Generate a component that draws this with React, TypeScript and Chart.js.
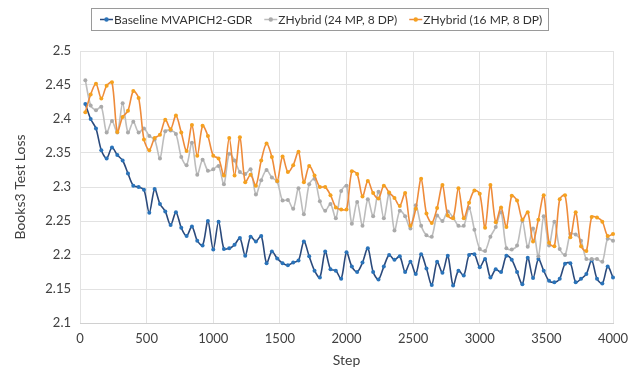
import { useEffect, useRef } from "react";
import { Chart, registerables } from "chart.js";

Chart.register(...registerables);

// Training steps at which the test loss was evaluated
const steps = [
  40, 80, 120, 160, 200, 240, 280, 320, 360, 400,
  440, 480, 520, 560, 600, 640, 680, 720, 760, 800,
  840, 880, 920, 960, 1000, 1040, 1080, 1120, 1160, 1200,
  1240, 1280, 1320, 1360, 1400, 1440, 1480, 1520, 1560, 1600,
  1640, 1680, 1720, 1760, 1800, 1840, 1880, 1920, 1960, 2000,
  2040, 2080, 2120, 2160, 2200, 2240, 2280, 2320, 2360, 2400,
  2440, 2480, 2520, 2560, 2600, 2640, 2680, 2720, 2760, 2800,
  2840, 2880, 2920, 2960, 3000, 3040, 3080, 3120, 3160, 3200,
  3240, 3280, 3320, 3360, 3400, 3440, 3480, 3520, 3560, 3600,
  3640, 3680, 3720, 3760, 3800, 3840, 3880, 3920, 3960, 4000,
];

// Books3 test loss, baseline MVAPICH2-GDR
const baseline = [
  2.422, 2.400, 2.386, 2.354, 2.342, 2.358, 2.347, 2.339, 2.320, 2.302,
  2.300, 2.296, 2.262, 2.297, 2.275, 2.264, 2.244, 2.263, 2.240, 2.228,
  2.242, 2.221, 2.214, 2.250, 2.208, 2.249, 2.209, 2.210, 2.215, 2.225,
  2.199, 2.227, 2.220, 2.228, 2.188, 2.205, 2.195, 2.188, 2.185, 2.189,
  2.192, 2.220, 2.198, 2.177, 2.167, 2.205, 2.179, 2.177, 2.165, 2.204,
  2.183, 2.175, 2.189, 2.210, 2.175, 2.164, 2.183, 2.200, 2.193, 2.198,
  2.175, 2.190, 2.172, 2.201, 2.180, 2.156, 2.190, 2.174, 2.199, 2.155,
  2.177, 2.170, 2.200, 2.201, 2.182, 2.194, 2.167, 2.179, 2.175, 2.199,
  2.193, 2.175, 2.157, 2.196, 2.166, 2.194, 2.177, 2.162, 2.160, 2.165,
  2.187, 2.188, 2.160, 2.165, 2.172, 2.192, 2.165, 2.158, 2.183, 2.167,
];

// ZHybrid with 24-way model parallelism, 8-way data parallelism
const zhybrid24 = [
  2.457, 2.420, 2.413, 2.418, 2.380, 2.397, 2.380, 2.423, 2.380, 2.396,
  2.380, 2.386, 2.375, 2.370, 2.342, 2.382, 2.383, 2.378, 2.344, 2.332,
  2.365, 2.318, 2.340, 2.324, 2.326, 2.331, 2.304, 2.349, 2.339, 2.322,
  2.319, 2.326, 2.289, 2.310, 2.325, 2.314, 2.308, 2.280, 2.281, 2.268,
  2.298, 2.260, 2.304, 2.312, 2.279, 2.265, 2.275, 2.254, 2.294, 2.302,
  2.246, 2.278, 2.243, 2.282, 2.257, 2.293, 2.254, 2.290, 2.236, 2.265,
  2.257, 2.239, 2.273, 2.243, 2.229, 2.227, 2.258, 2.250, 2.264, 2.255,
  2.243, 2.243, 2.269, 2.237, 2.209, 2.206, 2.227, 2.241, 2.263, 2.210,
  2.208, 2.214, 2.250, 2.212, 2.239, 2.198, 2.257, 2.214, 2.249, 2.209,
  2.200, 2.231, 2.230, 2.221, 2.194, 2.194, 2.194, 2.190, 2.224, 2.221,
];

// ZHybrid with 16-way model parallelism, 8-way data parallelism
const zhybrid16 = [
  2.410, 2.436, 2.452, 2.430, 2.449, 2.454, 2.381, 2.403, 2.412, 2.441,
  2.431, 2.370, 2.354, 2.372, 2.377, 2.399, 2.385, 2.405, 2.380, 2.353,
  2.391, 2.346, 2.390, 2.375, 2.346, 2.342, 2.317, 2.372, 2.317, 2.373,
  2.307, 2.318, 2.302, 2.339, 2.364, 2.344, 2.309, 2.345, 2.322, 2.332,
  2.352, 2.307, 2.331, 2.317, 2.300, 2.300, 2.288, 2.270, 2.267, 2.267,
  2.323, 2.319, 2.286, 2.309, 2.291, 2.283, 2.302, 2.292, 2.284, 2.272,
  2.291, 2.243, 2.268, 2.312, 2.261, 2.247, 2.269, 2.303, 2.258, 2.254,
  2.298, 2.254, 2.277, 2.295, 2.290, 2.240, 2.303, 2.248, 2.270, 2.241,
  2.287, 2.280, 2.252, 2.263, 2.220, 2.252, 2.288, 2.218, 2.213, 2.282,
  2.288, 2.226, 2.263, 2.213, 2.206, 2.256, 2.255, 2.249, 2.228, 2.231,
];

const seriesNames = ["Baseline MVAPICH2-GDR", "ZHybrid (24 MP, 8 DP)", "ZHybrid (16 MP, 8 DP)"];
const lineColors = ["#2b4a7c", "#bdbdbd", "#ee8b3a"];
const markerColors = ["#2a73b9", "#aaaaaa", "#f5a11f"];

const FONT = "Lato, 'Open Sans', 'DejaVu Sans', sans-serif";

// Legend drawn as a single bordered row above the plot
const boxedLegend = {
  id: "boxedLegend",
  afterDraw(chart: any) {
    const ctx = chart.ctx as CanvasRenderingContext2D;
    const datasets = chart.data.datasets;
    ctx.save();
    ctx.font = `12px ${FONT}`;
    const markerW = 13;
    const gap = 1;
    const itemGap = 12;
    const padL = 9;
    const padR = 6;
    const widths = datasets.map((ds: any) => markerW + gap + ctx.measureText(ds.label).width);
    const total = widths.reduce((a: number, b: number) => a + b, 0) + itemGap * (datasets.length - 1);
    const boxW = Math.round(total + padL + padR);
    const boxH = 22;
    const top = 8;
    const left = Math.round(chart.width / 2 - boxW / 2) + 4;
    ctx.strokeStyle = "#9a9a9a";
    ctx.lineWidth = 1;
    ctx.strokeRect(left + 0.5, top + 0.5, boxW, boxH);
    const cy = top + boxH / 2 + 0.5;
    let x = left + padL;
    datasets.forEach((ds: any, i: number) => {
      ctx.strokeStyle = ds.borderColor;
      ctx.lineWidth = 1.5;
      ctx.beginPath();
      ctx.moveTo(x, cy);
      ctx.lineTo(x + markerW, cy);
      ctx.stroke();
      ctx.fillStyle = ds.pointBackgroundColor;
      ctx.beginPath();
      ctx.arc(x + markerW / 2, cy, 2.2, 0, Math.PI * 2);
      ctx.fill();
      ctx.fillStyle = "#333333";
      ctx.textBaseline = "middle";
      ctx.textAlign = "left";
      ctx.fillText(ds.label, x + markerW + gap, cy + 1);
      x += widths[i] + itemGap;
    });
    ctx.restore();
  },
};

export default function App() {
  const canvasRef = useRef<HTMLCanvasElement>(null);

  useEffect(() => {
    document.body.style.margin = "0";
    const series = [baseline, zhybrid24, zhybrid16];
    const chart = new Chart(canvasRef.current!, {
      type: "line",
      data: {
        datasets: series.map((values, i) => ({
          label: seriesNames[i],
          data: steps.map((s, j) => ({ x: s, y: values[j] })),
          borderColor: lineColors[i],
          backgroundColor: markerColors[i],
          pointBackgroundColor: markerColors[i],
          pointBorderColor: markerColors[i],
          pointRadius: 2,
          pointBorderWidth: 0,
          borderWidth: 1.6,
          tension: 0.3,
          clip: false as any,
          order: 2 - i,
        })),
      },
      options: {
        animation: false,
        responsive: true,
        maintainAspectRatio: false,
        layout: { padding: { top: 51, right: 17, bottom: 0, left: 0 } },
        plugins: {
          legend: { display: false },
          tooltip: { enabled: false },
        },
        scales: {
          x: {
            type: "linear",
            min: 0,
            max: 4000,
            ticks: {
              stepSize: 500,
              color: "#404040",
              font: { family: FONT, size: 13 },
              padding: 8,
              maxRotation: 0,
              callback: (v: any) => String(v),
            },
            grid: { color: "#e2e2e2", drawTicks: false },
            border: { display: true, color: "#d0d0d0" },
            title: {
              display: true,
              text: "Step",
              color: "#404040",
              font: { family: FONT, size: 14 },
              padding: { top: -2, bottom: 0 },
            },
            afterFit: (scale: any) => {
              scale.height = 46;
              scale.paddingLeft = 0;
              scale.paddingRight = 0;
            },
          },
          y: {
            min: 2.1,
            max: 2.5,
            ticks: {
              stepSize: 0.05,
              color: "#404040",
              font: { family: FONT, size: 13 },
              padding: 9,
              callback: (v: any) => String(Number(Number(v).toFixed(2))),
            },
            grid: { color: "#e2e2e2", drawTicks: false },
            border: { display: false },
            title: {
              display: true,
              text: "Books3 Test Loss",
              color: "#404040",
              font: { family: FONT, size: 14 },
              padding: { top: 12, bottom: 0 },
            },
            afterFit: (scale: any) => {
              scale.width = 80;
              scale.paddingTop = 0;
              scale.paddingBottom = 0;
            },
          },
        },
      },
      plugins: [boxedLegend],
    });
    return () => chart.destroy();
  }, []);

  return (
    <div style={{ position: "relative", width: 630, height: 369 }}>
      <canvas ref={canvasRef} />
    </div>
  );
}
